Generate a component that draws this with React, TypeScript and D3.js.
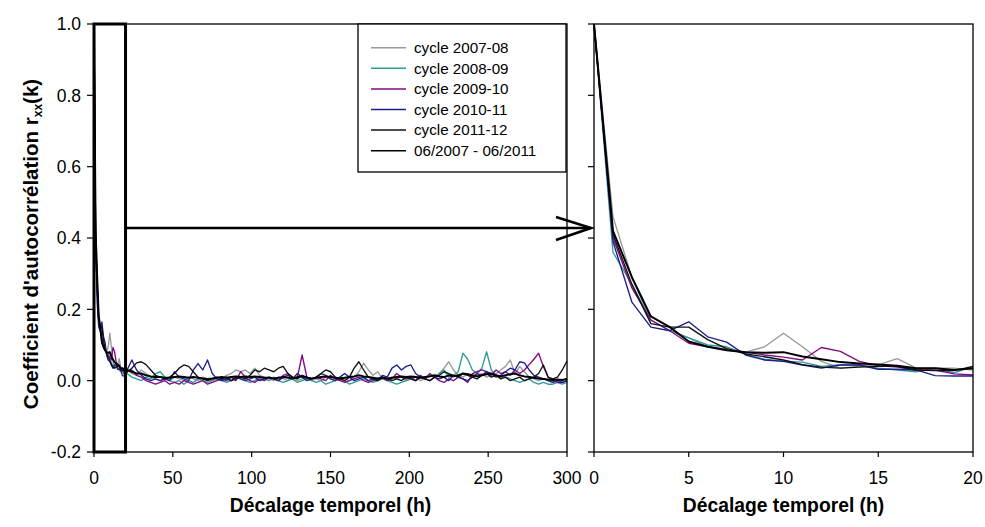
import React from "react";
import * as d3 from "d3";

// ---------- data ----------
const seriesNames = ["cycle 2007-08", "cycle 2008-09", "cycle 2009-10", "cycle 2010-11", "cycle 2011-12", "06/2007 - 06/2011"];
const seriesColors = ["#9a9a9a", "#2f9c9c", "#850a85", "#1e1e8e", "#111111", "#000000"];
const seriesWidths = [1.35, 1.35, 1.35, 1.35, 1.35, 2.0];

// hourly lags 0..20 (right panel)
const shortLags = d3.range(0, 21);
const shortGray = [1, 0.46, 0.29, 0.17, 0.14, 0.12, 0.095, 0.09, 0.08, 0.095, 0.133, 0.095, 0.054, 0.035, 0.04, 0.044, 0.062, 0.035, 0.035, 0.035, 0.03];
const shortTeal = [1, 0.36, 0.27, 0.17, 0.14, 0.12, 0.1, 0.095, 0.075, 0.06, 0.055, 0.052, 0.04, 0.045, 0.043, 0.035, 0.03, 0.025, 0.035, 0.022, 0.04];
const shortPurple = [1, 0.4, 0.26, 0.17, 0.14, 0.105, 0.095, 0.086, 0.08, 0.072, 0.066, 0.058, 0.093, 0.082, 0.054, 0.042, 0.038, 0.03, 0.03, 0.019, 0.016];
const shortBlue = [1, 0.39, 0.22, 0.15, 0.14, 0.165, 0.123, 0.108, 0.072, 0.058, 0.054, 0.044, 0.035, 0.044, 0.044, 0.032, 0.032, 0.03, 0.014, 0.013, 0.013];
const shortBlackA = [1, 0.41, 0.27, 0.16, 0.15, 0.15, 0.115, 0.09, 0.075, 0.067, 0.058, 0.045, 0.038, 0.035, 0.038, 0.04, 0.04, 0.03, 0.028, 0.028, 0.04];
const shortBlackB = [1, 0.42, 0.29, 0.18, 0.15, 0.11, 0.095, 0.085, 0.08, 0.078, 0.08, 0.068, 0.06, 0.052, 0.048, 0.045, 0.042, 0.035, 0.035, 0.03, 0.035];

// lags 21..300 every 3 h (left panel tail)
const longLags = d3.range(21, 301, 3);
const longGray = [
  0.03, 0.02, 0.015, 0.03, 0.02, 0.01, 0.005, 0.0, 0.005, 0.0,
  0.01, 0.005, 0.0, 0.01, 0.005, 0.0, 0.01, 0.005, 0.0, 0.01,
  0.005, 0.015, 0.02, 0.03, 0.025, 0.03, 0.02, 0.035, 0.015, 0.01,
  0.005, 0.0, 0.01, 0.005, 0.0, 0.01, 0.0, 0.005, 0.01, 0.0,
  0.005, 0.0, 0.01, 0.005, 0.0, 0.01, 0.005, 0.0, 0.01, 0.025,
  0.049, 0.03, 0.015, 0.025, 0.005, 0.0, 0.01, 0.005, 0.01, 0.0,
  0.005, 0.01, 0.0, 0.005, 0.015, 0.01, 0.02, 0.035, 0.053, 0.03,
  0.015, 0.01, 0.02, 0.01, 0.015, 0.02, 0.01, 0.015, 0.02, 0.03,
  0.04, 0.058, 0.02, 0.04, 0.025, 0.01, 0.005, 0.0, 0.005, 0.0,
  -0.005, 0.0, -0.005, 0.0,
];
const longTeal = [
  0.02, 0.01, 0.005, 0.0, 0.01, 0.005, 0.02, 0.025, 0.01, 0.0,
  -0.005, 0.0, -0.01, 0.0, -0.005, 0.005, 0.0, -0.005, 0.0, 0.005,
  0.0, -0.005, 0.0, 0.01, 0.005, 0.0, -0.005, 0.0, 0.01, 0.005,
  0.0, 0.01, 0.0, -0.005, 0.0, 0.005, -0.005, 0.0, 0.005, 0.0,
  -0.005, 0.0, -0.01, -0.005, 0.0, 0.005, 0.0, -0.01, -0.005, 0.0,
  0.005, 0.0, -0.005, 0.0, 0.005, 0.0, -0.005, -0.01, -0.005, 0.0,
  0.005, 0.0, 0.01, 0.005, 0.015, 0.01, 0.02, 0.03, 0.01, 0.015,
  0.025, 0.077, 0.06, 0.03, 0.02, 0.035, 0.081, 0.03, 0.015, 0.01,
  0.01, 0.005, 0.0, -0.005, 0.0, 0.005, -0.005, -0.01, -0.005, -0.01,
  -0.01, -0.005, -0.01, -0.005,
];
const longPurple = [
  0.025, 0.03, 0.015, 0.01, 0.0, -0.005, -0.01, -0.005, 0.0, -0.01,
  -0.005, -0.01, 0.0, -0.005, -0.01, -0.005, 0.0, -0.01, -0.005, 0.0,
  0.005, 0.0, 0.01, 0.0, 0.025, 0.01, 0.0, -0.005, 0.005, 0.0,
  0.01, 0.005, 0.0, 0.015, 0.02, 0.005, 0.01, 0.072, 0.01, 0.005,
  0.01, 0.005, 0.0, 0.015, 0.005, 0.0, -0.005, 0.0, 0.005, 0.01,
  0.0, -0.005, 0.0, 0.005, 0.01, 0.0, 0.005, 0.02, 0.01, 0.005,
  0.01, 0.0, 0.015, 0.005, 0.02, 0.01, 0.0, -0.005, 0.005, 0.0,
  0.01, 0.005, -0.005, 0.02, 0.025, 0.03, 0.025, 0.015, 0.03, 0.02,
  0.025, 0.015, 0.03, 0.02, 0.03, 0.045, 0.06, 0.077, 0.04, 0.01,
  0.0, -0.005, -0.005, 0.0,
];
const longBlue = [
  0.03, 0.058, 0.03, 0.015, 0.005, 0.0, 0.005, 0.0, 0.005, 0.0,
  0.025, 0.01, 0.005, 0.0, 0.03, 0.048, 0.03, 0.058, 0.02, 0.005,
  0.0, 0.005, 0.0, 0.01, 0.005, 0.0, 0.005, 0.01, 0.0, 0.005,
  0.01, 0.005, 0.0, 0.01, 0.015, 0.005, 0.02, 0.01, 0.0, 0.005,
  0.01, 0.02, 0.015, 0.005, 0.0, 0.01, 0.02, 0.01, 0.0, 0.005,
  0.01, 0.0, 0.005, 0.0, 0.015, 0.01, 0.035, 0.044, 0.03, 0.04,
  0.044, 0.02, 0.01, 0.005, 0.0, 0.01, 0.005, 0.01, 0.0, 0.015,
  0.01, 0.005, 0.0, 0.01, 0.02, 0.015, 0.025, 0.02, 0.01, 0.015,
  0.025, 0.035, 0.03, 0.053, 0.05, 0.03, 0.015, 0.01, 0.005, 0.0,
  -0.005, 0.0, -0.005, 0.0,
];
const longBlackA = [
  0.025, 0.035, 0.05, 0.053, 0.045, 0.03, 0.015, 0.01, 0.005, 0.01,
  0.02, 0.035, 0.044, 0.04, 0.025, 0.01, 0.005, 0.0, 0.005, 0.01,
  0.005, 0.01, 0.0, 0.005, 0.01, 0.005, 0.015, 0.03, 0.025, 0.035,
  0.03, 0.025, 0.035, 0.04, 0.02, 0.01, 0.005, 0.015, 0.01, 0.005,
  0.01, 0.02, 0.03, 0.025, 0.01, 0.005, 0.0, 0.01, 0.035, 0.053,
  0.03, 0.01, 0.005, 0.0, 0.01, 0.005, 0.0, 0.005, 0.0, 0.01,
  0.005, 0.0, 0.01, 0.005, 0.0, 0.01, 0.015, 0.025, 0.02, 0.015,
  0.01, 0.02, 0.015, 0.01, 0.005, 0.015, 0.02, 0.01, 0.015, 0.005,
  0.01, 0.0, 0.005, 0.01, 0.0, 0.005, 0.01, 0.02, 0.044, 0.01,
  0.005, 0.01, 0.03, 0.055,
];
const longBlackB = [
  0.03, 0.025, 0.02, 0.02, 0.015, 0.012, 0.01, 0.01, 0.008, 0.008,
  0.01, 0.012, 0.01, 0.008, 0.01, 0.008, 0.006, 0.005, 0.006, 0.008,
  0.01, 0.008, 0.01, 0.012, 0.01, 0.012, 0.01, 0.012, 0.01, 0.008,
  0.008, 0.006, 0.008, 0.01, 0.008, 0.006, 0.01, 0.012, 0.008, 0.006,
  0.008, 0.01, 0.012, 0.01, 0.008, 0.006, 0.008, 0.01, 0.012, 0.015,
  0.012, 0.01, 0.008, 0.006, 0.008, 0.006, 0.008, 0.01, 0.012, 0.01,
  0.012, 0.01, 0.008, 0.01, 0.012, 0.015, 0.012, 0.01, 0.015, 0.012,
  0.015, 0.02, 0.018, 0.015, 0.012, 0.015, 0.018, 0.02, 0.015, 0.012,
  0.015, 0.018, 0.02, 0.015, 0.012, 0.01, 0.008, 0.006, 0.005, 0.003,
  0.002, 0.003, 0.002, 0.005,
];

const yTicks = [-0.2, 0.0, 0.2, 0.4, 0.6, 0.8, 1.0];
const leftXTicks = [0, 50, 100, 150, 200, 250, 300];
const rightXTicks = [0, 5, 10, 15, 20];
const arrowValue = 0.428;
const zoomMaxLag = 20;

const shortSeries = [shortGray, shortTeal, shortPurple, shortBlue, shortBlackA, shortBlackB];
const longSeries = [longGray, longTeal, longPurple, longBlue, longBlackA, longBlackB];

// ---------- layout ----------
const W = 985, H = 527;
const top = 24, bottom = 452;
const L = { x0: 94, x1: 567 };
const R = { x0: 594, x1: 973 };
const FONT = "'Liberation Sans', Arial, sans-serif";

export default function App() {
  const y = d3.scaleLinear().domain([-0.2, 1.0]).range([bottom, top]);
  const xL = d3.scaleLinear().domain([0, 300]).range([L.x0, L.x1]);
  const xR = d3.scaleLinear().domain([0, 20]).range([R.x0, R.x1]);

  const lineL = d3.line<[number, number]>().x((d) => xL(d[0])).y((d) => y(d[1]));
  const lineR = d3.line<[number, number]>().x((d) => xR(d[0])).y((d) => y(d[1]));

  const leftData = shortSeries.map((s, i) => [
    ...shortLags.map((k, j) => [k, s[j]] as [number, number]),
    ...longLags.map((k, j) => [k, longSeries[i][j]] as [number, number]),
  ]);
  const rightData = shortSeries.map((s) => shortLags.map((k, j) => [k, s[j]] as [number, number]));

  const ay = y(arrowValue);
  const legendX = 358, legendY = top, legendW = 208, legendH = 148;

  return (
    <svg width={W} height={H} style={{ position: "absolute", left: 0, top: 0, background: "#fff" }} fontFamily={FONT}>
      <rect x={0} y={0} width={W} height={H} fill="#fff" />
      {/* left panel lines */}
      <g fill="none" strokeLinejoin="round">
        {leftData.map((d, i) => (
          <path key={i} d={lineL(d) || ""} stroke={seriesColors[i]} strokeWidth={seriesWidths[i]} />
        ))}
      </g>
      {/* right panel lines */}
      <g fill="none" strokeLinejoin="round">
        {rightData.map((d, i) => (
          <path key={i} d={lineR(d) || ""} stroke={seriesColors[i]} strokeWidth={seriesWidths[i]} />
        ))}
      </g>

      {/* frames */}
      <rect x={L.x0} y={top} width={L.x1 - L.x0} height={bottom - top} fill="none" stroke="#000" strokeWidth={1.3} />
      <rect x={R.x0} y={top} width={R.x1 - R.x0} height={bottom - top} fill="none" stroke="#000" strokeWidth={1.3} />

      {/* y ticks */}
      {yTicks.map((t) => (
        <g key={t}>
          <line x1={L.x0 - 7} x2={L.x0} y1={y(t)} y2={y(t)} stroke="#000" strokeWidth={1.2} />
          <line x1={R.x0 - 6} x2={R.x0} y1={y(t)} y2={y(t)} stroke="#000" strokeWidth={1.2} />
          <text x={81} y={y(t)} dy="0.36em" textAnchor="end" fontSize={17.5}>
            {t.toFixed(1)}
          </text>
        </g>
      ))}
      {/* x ticks */}
      {leftXTicks.map((t) => (
        <g key={"l" + t}>
          <line x1={xL(t)} x2={xL(t)} y1={bottom} y2={bottom + 5} stroke="#000" strokeWidth={1.2} />
          <text x={xL(t)} y={484} textAnchor="middle" fontSize={17.5}>{t}</text>
        </g>
      ))}
      {rightXTicks.map((t) => (
        <g key={"r" + t}>
          <line x1={xR(t)} x2={xR(t)} y1={bottom} y2={bottom + 5} stroke="#000" strokeWidth={1.2} />
          <text x={xR(t)} y={484} textAnchor="middle" fontSize={17.5}>{t}</text>
        </g>
      ))}

      {/* zoom rectangle */}
      <rect x={xL(0)} y={y(1.0)} width={xL(zoomMaxLag) - xL(0)} height={y(-0.2) - y(1.0)} fill="none" stroke="#000" strokeWidth={3} />
      {/* arrow */}
      <line x1={xL(zoomMaxLag)} x2={R.x0 - 3} y1={ay} y2={ay} stroke="#000" strokeWidth={2.6} />
      <polyline points={`${R.x0 - 38},${ay - 11} ${R.x0 - 3},${ay} ${R.x0 - 38},${ay + 12}`} fill="none" stroke="#000" strokeWidth={2.6} />

      {/* legend */}
      <rect x={legendX} y={legendY} width={legendW} height={legendH} fill="#fff" stroke="#000" strokeWidth={1.3} />
      {seriesNames.map((n, i) => {
        const ly = 47.7 + i * 20.6;
        return (
          <g key={n}>
            <line x1={371} x2={406} y1={ly} y2={ly} stroke={seriesColors[i]} strokeWidth={i === 5 ? 1.6 : 1.5} />
            <text x={414} y={ly} dy="0.35em" fontSize={15.2}>{n}</text>
          </g>
        );
      })}

      {/* axis titles */}
      <text transform={`translate(38, 244) rotate(-90)`} textAnchor="middle" fontSize={20.5} fontWeight="bold">
        Coefficient d'autocorrélation r<tspan fontSize={12} dy={4}>xx</tspan><tspan dy={-4}>(k)</tspan>
      </text>
      <text x={(L.x0 + L.x1) / 2} y={512} textAnchor="middle" fontSize={19.3} fontWeight="bold">Décalage temporel (h)</text>
      <text x={(R.x0 + R.x1) / 2} y={512} textAnchor="middle" fontSize={19.3} fontWeight="bold">Décalage temporel (h)</text>
    </svg>
  );
}
